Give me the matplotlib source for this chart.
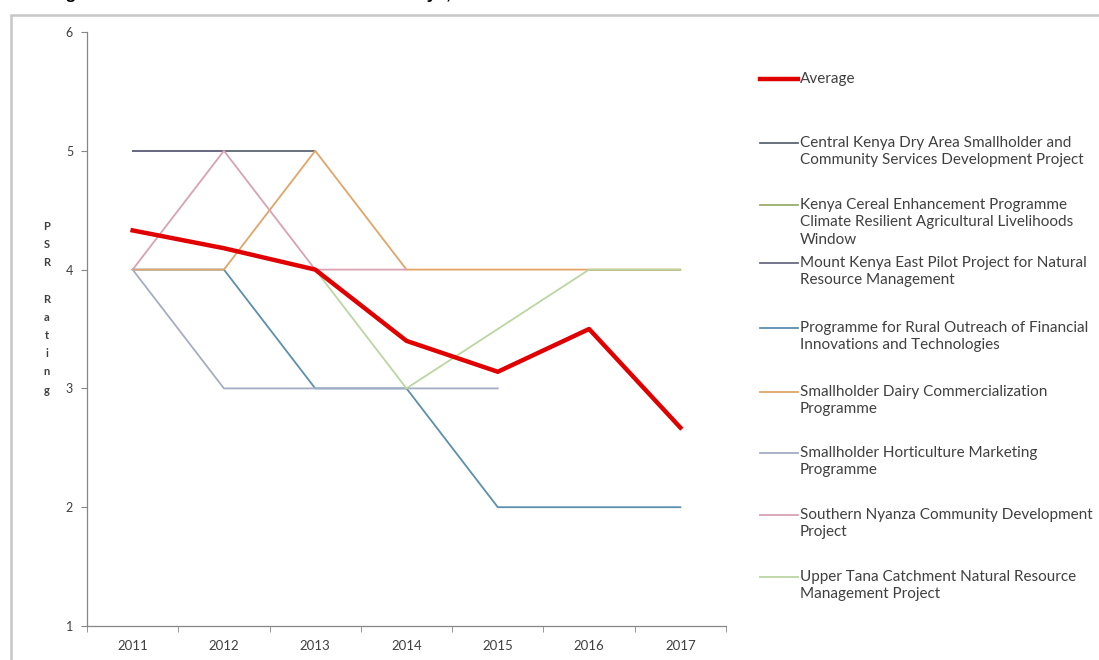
import numpy as np
import matplotlib.pyplot as plt
from matplotlib.patches import Rectangle
from matplotlib.lines import Line2D

years = ['2011', '2012', '2013', '2014', '2015', '2016', '2017']
nan = np.nan

# PSR ratings per project (nan = no rating that year)
average = [4.33, 4.18, 4.0, 3.4, 3.14, 3.5, 2.67]
central_kenya = [5, 5, 5, nan, nan, nan, nan]
kenya_cereal = [nan, nan, nan, nan, nan, 4, 4]
mount_kenya = [5, 5, nan, nan, nan, nan, nan]
profit = [4, 4, 3, 3, 2, 2, 2]
dairy = [4, 4, 5, 4, 4, 4, 4]
horticulture = [4, 3, 3, 3, 3, nan, nan]
nyanza = [4, 5, 4, 4, nan, nan, nan]
upper_tana = [nan, nan, 4, 3, nan, 4, 4]

series = [
    ('Central Kenya Dry Area Smallholder and\nCommunity Services Development Project', central_kenya, '#5d6673'),
    ('Kenya Cereal Enhancement Programme\nClimate Resilient Agricultural Livelihoods\nWindow', kenya_cereal, '#9aae6c'),
    ('Mount Kenya East Pilot Project for Natural\nResource Management', mount_kenya, '#6a6a84'),
    ('Programme for Rural Outreach of Financial\nInnovations and Technologies', profit, '#5b8fae'),
    ('Smallholder Dairy Commercialization\nProgramme', dairy, '#e2a567'),
    ('Smallholder Horticulture Marketing\nProgramme', horticulture, '#a5adc3'),
    ('Southern Nyanza Community Development\nProject', nyanza, '#d9a2b2'),
    ('Upper Tana Catchment Natural Resource\nManagement Project', upper_tana, '#bcd6a2'),
]

plt.rcParams['font.family'] = ['Lato', 'DejaVu Sans']

W, H = 1099, 660
fig = plt.figure(figsize=(W / 100, H / 100), dpi=100)
ax = fig.add_axes([87 / W, 34 / H, 639 / W, 594 / H])

x = np.arange(len(years))

# Average line drawn on top
avg_line, = ax.plot(x, average, color='#e00000', lw=3.2, zorder=5)

lines = []
for name, vals, col in series:
    v = np.array(vals, dtype=float)
    m = ~np.isnan(v)
    ln, = ax.plot(x[m], v[m], color=col, lw=1.3)
    lines.append(ln)

ax.set_xlim(-0.5, len(years) - 0.5)
ax.set_ylim(1, 6)
ax.set_xticks(x)
ax.set_xticklabels(years)
ax.set_xticks(np.arange(-0.5, len(years)), minor=True)
ax.tick_params(axis='x', which='major', length=0, pad=10, labelsize=9.5, labelcolor='#404040')
ax.tick_params(axis='x', which='minor', length=4, color='#868686')
ax.set_yticks([1, 2, 3, 4, 5, 6])
ax.tick_params(axis='y', length=4, color='#868686', labelsize=9, labelcolor='#404040', pad=6)

for s in ['top', 'right']:
    ax.spines[s].set_visible(False)
for s in ['left', 'bottom']:
    ax.spines[s].set_color('#868686')
    ax.spines[s].set_linewidth(0.9)

ax.set_ylabel('P\nS\nR\n\nR\na\nt\ni\nn\ng', rotation=0, fontsize=8, fontweight='bold',
              color='#404040', linespacing=1.8, va='center', ha='center')
ax.yaxis.set_label_coords(-0.063, 0.535)

# legend laid out like the Excel one: key on the first line of each entry
entry_y = [79, 143, 205, 263, 328, 392, 453, 515, 577]
labels = ['Average'] + [s[0] for s in series]
keys = [avg_line] + lines
for yy, lab, ln in zip(entry_y, labels, keys):
    fy = 1 - yy / H
    fig.add_artist(Line2D([760 / W, 798 / W], [fy, fy], transform=fig.transFigure,
                          color=ln.get_color(), lw=ln.get_linewidth()))
    fig.text(800 / W, 1 - (yy - 7) / H, lab, fontsize=11, color='#404040',
             va='top', ha='left', linespacing=1.3)

# outer chart border and clipped title above it
fig.add_artist(Rectangle((11 / W, -0.1), 1.2, 1.1 - 15 / H, transform=fig.transFigure,
                         fill=False, edgecolor='#c6c6c6', lw=1.8))
fig.text(22 / W, 1 + 1 / H, 'Ratings Performance of IFAD Investments in Kenya, 2011-2017',
         fontsize=12.5, fontweight='bold', family=['Liberation Sans', 'DejaVu Sans'],
         va='baseline', ha='left')

fig.savefig('out.png', dpi=100)
